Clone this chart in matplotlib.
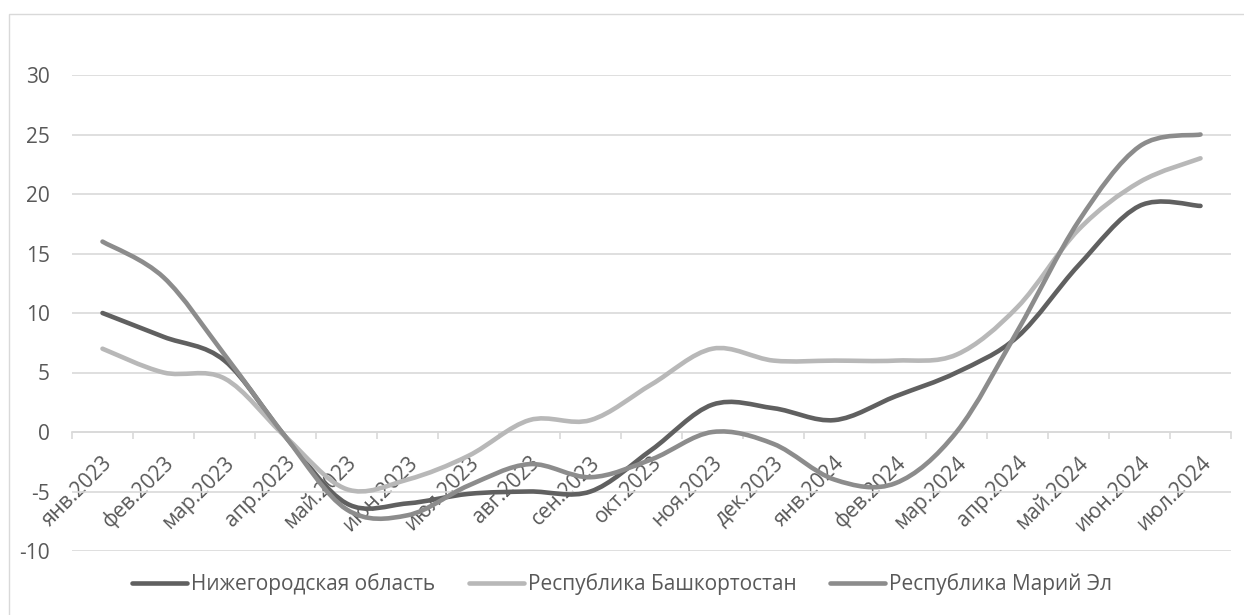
import matplotlib
matplotlib.use("Agg")
import matplotlib.pyplot as plt
import numpy as np
from matplotlib.path import Path
from matplotlib.patches import PathPatch, Rectangle
from matplotlib.lines import Line2D
from matplotlib.transforms import ScaledTranslation

plt.rcParams['font.family'] = ['Open Sans', 'DejaVu Sans']
plt.rcParams['axes.unicode_minus'] = False

months = ['янв.2023', 'фев.2023', 'мар.2023', 'апр.2023', 'май.2023', 'июн.2023',
          'июл.2023', 'авг.2023', 'сен.2023', 'окт.2023', 'ноя.2023', 'дек.2023',
          'янв.2024', 'фев.2024', 'мар.2024', 'апр.2024', 'май.2024', 'июн.2024',
          'июл.2024']
nizhny = [10, 8, 6, -0.4, -6, -6, -5.2, -5, -5, -1.5, 2.3, 2, 1, 3, 5, 8, 14, 19, 19]
bashkort = [7, 5, 4.5, -0.4, -4.8, -4, -2, 1, 1, 4, 7, 6, 6, 6, 6.5, 10.5, 17, 21, 23]
mari = [16, 13, 6.5, -0.4, -6.5, -7, -4.5, -2.7, -3.8, -2.3, 0, -1, -4, -4.3, 0, 8.5, 17.7, 24, 25]

names = ['Нижегородская область', 'Республика Башкортостан', 'Республика Марий Эл']
colors = ['#606060', '#b8b8b8', '#8c8c8c']
text_col = '#595959'
grid_col = '#d9d9d9'
lw = 3.3
fs = 15


def smooth_path(xs, ys):
    # excel-like smoothed line: cubic bezier through every point
    pts = np.column_stack([xs, ys]).astype(float)
    n = len(pts)
    verts = [pts[0]]
    codes = [Path.MOVETO]
    for i in range(n - 1):
        p0 = pts[max(i - 1, 0)]
        p1 = pts[i]
        p2 = pts[i + 1]
        p3 = pts[min(i + 2, n - 1)]
        c1 = p1 + (p2 - p0) / 6.0
        c2 = p2 - (p3 - p1) / 6.0
        verts += [c1, c2, p2]
        codes += [Path.CURVE4] * 3
    return Path(verts, codes)


W, H = 1244, 615
fig = plt.figure(figsize=(W / 100, H / 100), dpi=100)
fig.patch.set_facecolor('white')

# chart border (only left/top visible in the crop)
fig.patches.append(Rectangle((8.5 / W, -0.05), 1.2, (H - 13.5) / H + 0.05,
                             transform=fig.transFigure, fill=False,
                             edgecolor=grid_col, lw=1.0))

ax = fig.add_axes([72 / W, (H - 551) / H, (1231 - 72) / W, (551 - 75) / H])
ax.set_xlim(-0.5, len(months) - 0.5)
ax.set_ylim(-10, 30)
ax.set_yticks(np.arange(-10, 31, 5))
ax.yaxis.grid(True, color=grid_col, lw=1.2)
ax.set_axisbelow(True)
for s in ['top', 'right', 'left']:
    ax.spines[s].set_visible(False)
ax.spines['bottom'].set_position(('data', 0))
ax.spines['bottom'].set_color(grid_col)
ax.spines['bottom'].set_linewidth(1.2)
ax.tick_params(axis='y', length=0, pad=16, labelsize=fs, labelcolor=text_col)

x = np.arange(len(months))
ax.set_xticks(np.arange(-0.5, len(months), 1.0))
ax.set_xticklabels([])
ax.tick_params(axis='x', which='major', length=5, width=1.2, color=grid_col, direction='out')
ax.set_xticks(x, minor=True)
ax.set_xticklabels(months, minor=True, rotation=45, ha='right', va='center',
                   rotation_mode='anchor', fontsize=fs, color=text_col)
ax.tick_params(axis='x', which='minor', length=0, pad=20)
off = ScaledTranslation(7 / 100, 0, fig.dpi_scale_trans)
for lab in ax.get_xticklabels(minor=True):
    lab.set_transform(lab.get_transform() + off)

for ys, c in zip([nizhny, bashkort, mari], colors):
    ax.add_patch(PathPatch(smooth_path(x, ys), facecolor='none', edgecolor=c,
                           lw=lw, capstyle='round', joinstyle='round', zorder=3))

handles = [Line2D([0], [0], color=c, lw=lw, solid_capstyle='round') for c in colors]
leg = fig.legend(handles, names, loc='center', bbox_to_anchor=(0.5, (H - 584) / H),
                 ncol=3, frameon=False, fontsize=fs, handlelength=2.65,
                 handletextpad=0.2, columnspacing=1.6)
for t in leg.get_texts():
    t.set_color(text_col)

fig.savefig('out.png', dpi=100)
